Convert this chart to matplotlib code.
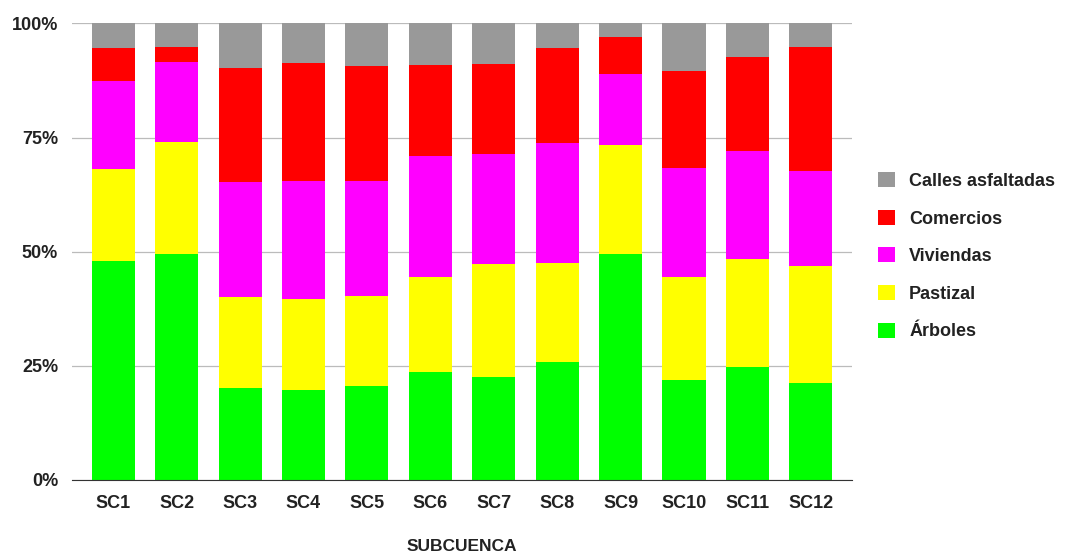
import matplotlib.pyplot as plt
import numpy as np
from matplotlib.patches import Patch
from matplotlib.ticker import FuncFormatter

plt.rcParams['font.family'] = ['Liberation Sans', 'DejaVu Sans']

subcuencas = ["SC1", "SC2", "SC3", "SC4", "SC5", "SC6",
              "SC7", "SC8", "SC9", "SC10", "SC11", "SC12"]

# porcentaje de cada uso de suelo por subcuenca
arboles = [48.0, 49.4, 20.1, 19.7, 20.6, 23.6, 22.6, 25.8, 49.4, 21.9, 24.7, 21.2]
pastizal = [20.0, 24.7, 20.0, 19.9, 19.8, 20.8, 24.7, 21.8, 24.0, 22.5, 23.6, 25.7]
viviendas = [19.4, 17.5, 25.1, 25.9, 25.1, 26.5, 24.0, 26.3, 15.6, 24.0, 23.7, 20.7]
comercios = [7.3, 3.3, 25.1, 25.9, 25.1, 20.0, 19.9, 20.8, 8.1, 21.2, 20.7, 27.3]
calles = [5.3, 5.1, 9.7, 8.6, 9.4, 9.1, 8.8, 5.3, 2.9, 10.4, 7.3, 5.1]

series = [
    ("Árboles", arboles, "#00ff00"),
    ("Pastizal", pastizal, "#ffff00"),
    ("Viviendas", viviendas, "#ff00ff"),
    ("Comercios", comercios, "#ff0000"),
    ("Calles asfaltadas", calles, "#999999"),
]


def main():
    fig = plt.figure(figsize=(10.75, 5.56), dpi=100)
    ax = fig.add_axes([0.067, 0.1367, 0.7256, 0.8213])

    x = np.arange(len(subcuencas))
    bottom = np.zeros(len(subcuencas))
    handles = []
    for name, vals, color in series:
        vals = np.array(vals)
        ax.bar(x, vals, 0.68, bottom=bottom, color=color, zorder=2)
        bottom += vals
        handles.append(Patch(facecolor=color, label=name))

    ax.set_xlim(-0.65, len(subcuencas) - 0.35)
    ax.set_ylim(0, 100)
    ax.set_yticks([0, 25, 50, 75, 100])
    ax.yaxis.set_major_formatter(FuncFormatter(lambda v, p: f"{v:.0f}%"))
    ax.set_xticks(x)
    ax.set_xticklabels(subcuencas)

    ax.grid(axis="y", color="#bbbbbb", linewidth=0.9, zorder=0)
    for s in ["top", "right", "left"]:
        ax.spines[s].set_visible(False)
    ax.spines["bottom"].set_color("#333333")
    ax.tick_params(axis="x", length=0, labelsize=13, pad=11)
    ax.tick_params(axis="y", length=0, labelsize=13, pad=10)
    for lab in ax.get_xticklabels() + ax.get_yticklabels():
        lab.set_fontweight("bold")
        lab.set_color("#222222")

    # titulo del eje x, centrado bajo el area del grafico
    fig.text(0.43, 0.017, "SUBCUENCA", ha="center", va="center",
             fontsize=12.5, fontweight="bold", color="#222222")

    ax.legend(handles=handles[::-1], loc="center left",
              bbox_to_anchor=(1.013, 0.49), frameon=False,
              prop={"weight": "bold", "size": 13},
              handlelength=0.9, handleheight=0.9, labelspacing=1.1,
              handletextpad=0.8, labelcolor="#222222")

    fig.savefig("out.png")


if __name__ == "__main__":
    main()
